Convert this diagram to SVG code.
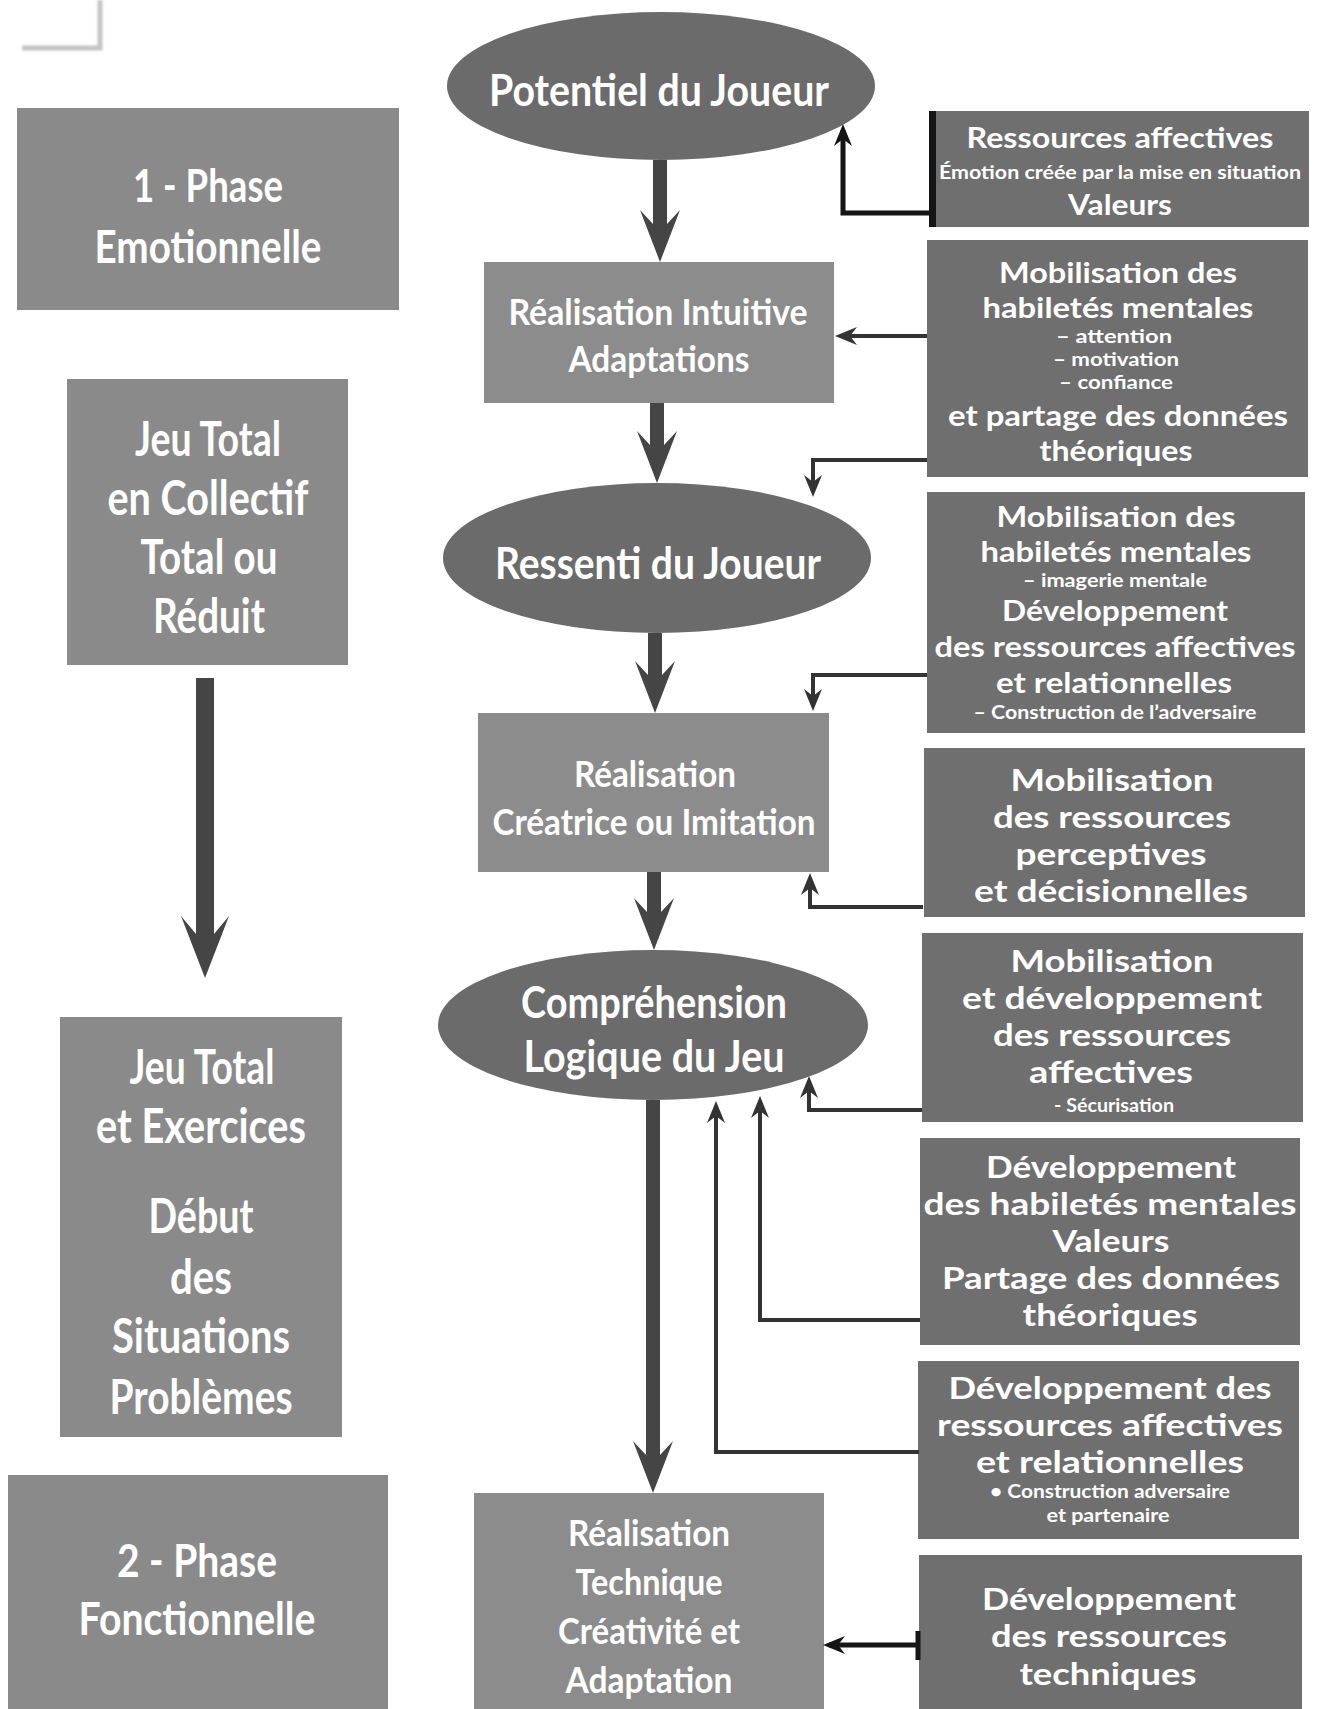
<svg xmlns="http://www.w3.org/2000/svg" width="1318" height="1709" viewBox="0 0 1318 1709">
<defs>
<style>
.lbox{fill:#8a8a8a}
.ell{fill:#6b6b6b}
.cbox{fill:#8c8c8c}
.rbox{fill:#6f6f6f}
.t{font-family:"Lato","Open Sans","Liberation Sans",sans-serif;font-weight:700;fill:#ffffff;text-anchor:middle}
.f48{font-size:48px}.f45{font-size:45px}.f44{font-size:44px}.f37{font-size:37px}
.f30{font-size:30px}.f29{font-size:29px}.f18{font-size:18px}
.thick{fill:#454545}
.conn{fill:none;stroke:#333333;stroke-width:4}
.connb{fill:none;stroke:#151515;stroke-width:5}
</style>
<marker id="ah" viewBox="-18 -10 26 20" refX="0" refY="0" markerWidth="26" markerHeight="20" markerUnits="userSpaceOnUse" orient="auto">
<path d="M6,0 L-16,-9 L-9,0 L-16,9 Z" fill="#333333"/>
</marker>
<marker id="ahb" viewBox="-18 -10 26 20" refX="0" refY="0" markerWidth="26" markerHeight="20" markerUnits="userSpaceOnUse" orient="auto">
<path d="M6,0 L-16,-9 L-9,0 L-16,9 Z" fill="#151515"/>
</marker>
<filter id="blur" x="-20%" y="-20%" width="140%" height="140%"><feGaussianBlur stdDeviation="1.3"/></filter>
</defs>

<path d="M22,48 H100 V0" fill="none" stroke="#c4c4c4" stroke-width="5" filter="url(#blur)"/>

<g id="phase1">
<rect class="lbox" x="17" y="108" width="382" height="202"/>
<text class="t f45" x="208" y="202" textLength="150" lengthAdjust="spacingAndGlyphs">1 - Phase</text>
<text class="t f45" x="208" y="263" textLength="227" lengthAdjust="spacingAndGlyphs">Emotionnelle</text>
</g>

<g id="jeu-total-collectif">
<rect class="lbox" x="67" y="379" width="281" height="286"/>
<text class="t f48" x="208" y="456" textLength="146" lengthAdjust="spacingAndGlyphs">Jeu Total</text>
<text class="t f48" x="208" y="515" textLength="201" lengthAdjust="spacingAndGlyphs">en Collectif</text>
<text class="t f48" x="209" y="574" textLength="137" lengthAdjust="spacingAndGlyphs">Total ou</text>
<text class="t f48" x="209" y="633" textLength="112" lengthAdjust="spacingAndGlyphs">Réduit</text>
</g>

<g id="jeu-total-exercices">
<rect class="lbox" x="60" y="1017" width="282" height="420"/>
<text class="t f48" x="202" y="1084" textLength="145" lengthAdjust="spacingAndGlyphs">Jeu Total</text>
<text class="t f48" x="201" y="1143" textLength="210" lengthAdjust="spacingAndGlyphs">et Exercices</text>
<text class="t f48" x="201" y="1233" textLength="105" lengthAdjust="spacingAndGlyphs">Début</text>
<text class="t f48" x="201" y="1294" textLength="62" lengthAdjust="spacingAndGlyphs">des</text>
<text class="t f48" x="201" y="1353" textLength="178" lengthAdjust="spacingAndGlyphs">Situations</text>
<text class="t f48" x="201" y="1414" textLength="183" lengthAdjust="spacingAndGlyphs">Problèmes</text>
</g>

<g id="phase2">
<rect class="lbox" x="8" y="1475" width="380" height="234"/>
<text class="t f45" x="197" y="1577" textLength="160" lengthAdjust="spacingAndGlyphs">2 - Phase</text>
<text class="t f45" x="197" y="1635" textLength="237" lengthAdjust="spacingAndGlyphs">Fonctionnelle</text>
</g>

<g id="potentiel">
<ellipse class="ell" cx="661" cy="86" rx="214" ry="74"/>
<text class="t f44" x="659" y="106" textLength="340" lengthAdjust="spacingAndGlyphs">Potentiel du Joueur</text>
</g>

<g id="realisation-intuitive">
<rect class="cbox" x="484" y="262" width="350" height="141"/>
<text class="t f37" x="658" y="325" textLength="299" lengthAdjust="spacingAndGlyphs">Réalisation Intuitive</text>
<text class="t f37" x="659" y="372" textLength="181" lengthAdjust="spacingAndGlyphs">Adaptations</text>
</g>

<g id="ressenti">
<ellipse class="ell" cx="657" cy="558" rx="214" ry="75"/>
<text class="t f44" x="658" y="579" textLength="326" lengthAdjust="spacingAndGlyphs">Ressenti du Joueur</text>
</g>

<g id="realisation-creatrice">
<rect class="cbox" x="478" y="713" width="351" height="159"/>
<text class="t f37" x="655" y="787" textLength="162" lengthAdjust="spacingAndGlyphs">Réalisation</text>
<text class="t f37" x="654" y="835" textLength="323" lengthAdjust="spacingAndGlyphs">Créatrice ou Imitation</text>
</g>

<g id="comprehension">
<ellipse class="ell" cx="653" cy="1025" rx="215" ry="75"/>
<text class="t f44" x="654" y="1018" textLength="266" lengthAdjust="spacingAndGlyphs">Compréhension</text>
<text class="t f44" x="654" y="1072" textLength="261" lengthAdjust="spacingAndGlyphs">Logique du Jeu</text>
</g>

<g id="realisation-technique">
<rect class="cbox" x="474" y="1493" width="350" height="216"/>
<text class="t f37" x="649" y="1546" textLength="162" lengthAdjust="spacingAndGlyphs">Réalisation</text>
<text class="t f37" x="649" y="1595" textLength="147" lengthAdjust="spacingAndGlyphs">Technique</text>
<text class="t f37" x="649" y="1644" textLength="182" lengthAdjust="spacingAndGlyphs">Créativité et</text>
<text class="t f37" x="649" y="1693" textLength="167" lengthAdjust="spacingAndGlyphs">Adaptation</text>
</g>

<g id="ressources-affectives">
<rect class="rbox" x="936" y="111" width="373" height="116"/>
<rect x="929" y="111" width="7" height="116" fill="#151515"/>
<text class="t f29" x="1120" y="148" textLength="307" lengthAdjust="spacingAndGlyphs">Ressources affectives</text>
<text class="t f18" x="1120" y="179" textLength="362" lengthAdjust="spacingAndGlyphs">Émotion créée par la mise en situation</text>
<text class="t f29" x="1120" y="215" textLength="104" lengthAdjust="spacingAndGlyphs">Valeurs</text>
</g>

<g id="mobilisation-habiletes-1">
<rect class="rbox" x="927" y="240" width="381" height="237"/>
<text class="t f29" x="1118" y="283" textLength="238" lengthAdjust="spacingAndGlyphs">Mobilisation des</text>
<text class="t f29" x="1118" y="318" textLength="271" lengthAdjust="spacingAndGlyphs">habiletés mentales</text>
<text class="t f18" x="1114" y="343" textLength="116" lengthAdjust="spacingAndGlyphs">– attention</text>
<text class="t f18" x="1116" y="366" textLength="126" lengthAdjust="spacingAndGlyphs">– motivation</text>
<text class="t f18" x="1116" y="389" textLength="114" lengthAdjust="spacingAndGlyphs">– confiance</text>
<text class="t f29" x="1118" y="426" textLength="340" lengthAdjust="spacingAndGlyphs">et partage des données</text>
<text class="t f29" x="1116" y="461" textLength="153" lengthAdjust="spacingAndGlyphs">théoriques</text>
</g>

<g id="mobilisation-habiletes-2">
<rect class="rbox" x="927" y="492" width="378" height="241"/>
<text class="t f29" x="1116" y="527" textLength="239" lengthAdjust="spacingAndGlyphs">Mobilisation des</text>
<text class="t f29" x="1116" y="562" textLength="271" lengthAdjust="spacingAndGlyphs">habiletés mentales</text>
<text class="t f18" x="1115" y="587" textLength="184" lengthAdjust="spacingAndGlyphs">– imagerie mentale</text>
<text class="t f29" x="1115" y="621" textLength="226" lengthAdjust="spacingAndGlyphs">Développement</text>
<text class="t f29" x="1115" y="657" textLength="361" lengthAdjust="spacingAndGlyphs">des ressources affectives</text>
<text class="t f29" x="1114" y="693" textLength="236" lengthAdjust="spacingAndGlyphs">et relationnelles</text>
<text class="t f18" x="1115" y="719" textLength="283" lengthAdjust="spacingAndGlyphs">– Construction de l’adversaire</text>
</g>

<g id="mobilisation-perceptives">
<rect class="rbox" x="924" y="748" width="381" height="169"/>
<text class="t f30" x="1112" y="791" textLength="203" lengthAdjust="spacingAndGlyphs">Mobilisation</text>
<text class="t f30" x="1112" y="828" textLength="238" lengthAdjust="spacingAndGlyphs">des ressources</text>
<text class="t f30" x="1111" y="865" textLength="191" lengthAdjust="spacingAndGlyphs">perceptives</text>
<text class="t f30" x="1111" y="902" textLength="274" lengthAdjust="spacingAndGlyphs">et décisionnelles</text>
</g>

<g id="mobilisation-affectives">
<rect class="rbox" x="922" y="933" width="381" height="189"/>
<text class="t f30" x="1112" y="972" textLength="203" lengthAdjust="spacingAndGlyphs">Mobilisation</text>
<text class="t f30" x="1112" y="1009" textLength="300" lengthAdjust="spacingAndGlyphs">et développement</text>
<text class="t f30" x="1112" y="1046" textLength="238" lengthAdjust="spacingAndGlyphs">des ressources</text>
<text class="t f30" x="1111" y="1083" textLength="164" lengthAdjust="spacingAndGlyphs">affectives</text>
<text class="t f18" x="1114" y="1112" textLength="120" lengthAdjust="spacingAndGlyphs">- Sécurisation</text>
</g>

<g id="developpement-habiletes">
<rect class="rbox" x="920" y="1138" width="380" height="207"/>
<text class="t f30" x="1111" y="1178" textLength="250" lengthAdjust="spacingAndGlyphs">Développement</text>
<text class="t f30" x="1110" y="1215" textLength="373" lengthAdjust="spacingAndGlyphs">des habiletés mentales</text>
<text class="t f30" x="1111" y="1252" textLength="117" lengthAdjust="spacingAndGlyphs">Valeurs</text>
<text class="t f30" x="1111" y="1289" textLength="338" lengthAdjust="spacingAndGlyphs">Partage des données</text>
<text class="t f30" x="1110" y="1326" textLength="175" lengthAdjust="spacingAndGlyphs">théoriques</text>
</g>

<g id="developpement-affectives">
<rect class="rbox" x="918" y="1361" width="381" height="178"/>
<text class="t f30" x="1110" y="1399" textLength="323" lengthAdjust="spacingAndGlyphs">Développement des</text>
<text class="t f30" x="1110" y="1436" textLength="346" lengthAdjust="spacingAndGlyphs">ressources affectives</text>
<text class="t f30" x="1110" y="1473" textLength="268" lengthAdjust="spacingAndGlyphs">et relationnelles</text>
<text class="t f18" x="1110" y="1498" textLength="240" lengthAdjust="spacingAndGlyphs">• Construction adversaire</text>
<text class="t f18" x="1108" y="1522" textLength="123" lengthAdjust="spacingAndGlyphs">et partenaire</text>
</g>

<g id="developpement-techniques">
<rect class="rbox" x="919" y="1555" width="383" height="154"/>
<text class="t f30" x="1109" y="1610" textLength="254" lengthAdjust="spacingAndGlyphs">Développement</text>
<text class="t f30" x="1109" y="1647" textLength="236" lengthAdjust="spacingAndGlyphs">des ressources</text>
<text class="t f30" x="1108" y="1685" textLength="177" lengthAdjust="spacingAndGlyphs">techniques</text>
</g>

<g id="connectors">
<path class="thick" d="M653,160 H667 V224 L680,210 L660,262 L640,210 L653,224 Z"/>
<path class="thick" d="M650,403 H664 V445 L677,431 L657,483 L637,431 L650,445 Z"/>
<path class="thick" d="M648,633 H662 V675 L675,661 L655,713 L635,661 L648,675 Z"/>
<path class="thick" d="M647,872 H661 V912 L674,898 L654,950 L634,898 L647,912 Z"/>
<path class="thick" d="M646,1100 H660 V1455 L673,1441 L653,1493 L633,1441 L646,1455 Z"/>
<path class="thick" d="M196,678 H214 V934 L229,916 L205,978 L181,916 L196,934 Z"/>
<path class="connb" d="M933,213 H843 V130" marker-end="url(#ahb)"/>
<path class="conn" d="M927,336 H841" marker-end="url(#ah)"/>
<path class="conn" d="M927,460 H813 V491" marker-end="url(#ah)"/>
<path class="conn" d="M927,675 H813 V705" marker-end="url(#ah)"/>
<path class="conn" d="M923,907 H810 V879" marker-end="url(#ah)"/>
<path class="conn" d="M922,1110 H809 V1082" marker-end="url(#ah)"/>
<path class="conn" d="M920,1320 H760 V1102" marker-end="url(#ah)"/>
<path class="conn" d="M919,1452 H716 V1107" marker-end="url(#ah)"/>
<path class="connb" d="M918,1645 H829" marker-end="url(#ahb)"/>
<path class="connb" d="M918,1631 V1660"/>
</g>
</svg>
